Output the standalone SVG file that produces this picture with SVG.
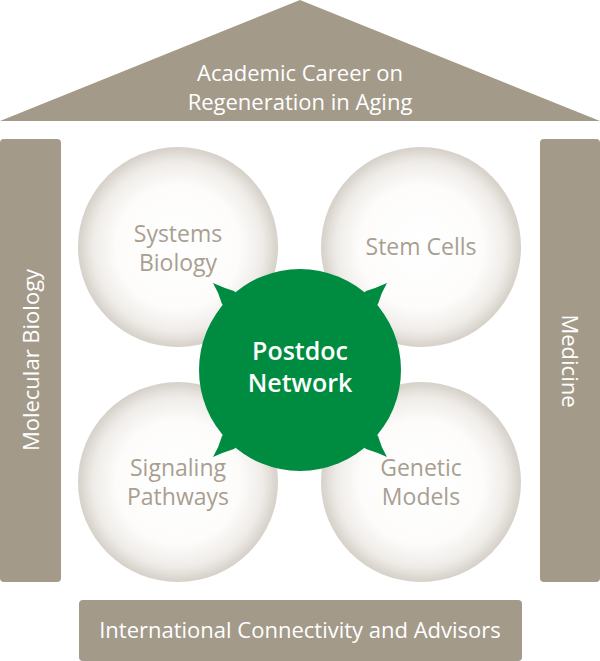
<svg xmlns="http://www.w3.org/2000/svg" width="600" height="661" viewBox="0 0 600 661">
<defs>
<radialGradient id="ball" cx="0.5" cy="0.5" r="0.5">
<stop offset="0" stop-color="#ffffff"/>
<stop offset="0.62" stop-color="#fdfcfb"/>
<stop offset="0.85" stop-color="#efece8"/>
<stop offset="1" stop-color="#d5d0c8"/>
</radialGradient>
<style>
.frame{fill:#a39a8a}
.ftxt{font-family:"Open Sans","Noto Sans",sans-serif;font-size:22px;fill:#ffffff;text-anchor:middle}
.ball{fill:url(#ball)}
.btxt{font-family:"Open Sans","Noto Sans",sans-serif;font-size:23px;fill:#a89f91;text-anchor:middle}
.hub{fill:#008c40}
.htxt{font-family:"Open Sans","Noto Sans",sans-serif;font-size:25px;font-weight:600;fill:#ffffff;text-anchor:middle}
</style>
</defs>
<g id="roof">
<polygon class="frame" points="0,121 300,0 600,121"/>
<text class="ftxt" x="300" y="81">Academic Career on</text>
<text class="ftxt" x="300" y="110">Regeneration in Aging</text>
</g>
<g id="pillar-left">
<rect class="frame" x="0" y="139" width="61" height="443" rx="4"/>
<text class="ftxt" transform="translate(39,360) rotate(-90)">Molecular Biology</text>
</g>
<g id="pillar-right">
<rect class="frame" x="540" y="139" width="60" height="443" rx="4"/>
<text class="ftxt" transform="translate(562,361) rotate(90)">Medicine</text>
</g>
<g id="base">
<rect class="frame" x="79" y="600" width="443" height="61" rx="4"/>
<text class="ftxt" x="300" y="638">International Connectivity and Advisors</text>
</g>
<g id="systems-biology">
<circle class="ball" cx="178" cy="247" r="100"/>
<text class="btxt" x="178" y="242">Systems</text>
<text class="btxt" x="178" y="271">Biology</text>
</g>
<g id="stem-cells">
<circle class="ball" cx="421" cy="247" r="100"/>
<text class="btxt" x="421" y="255">Stem Cells</text>
</g>
<g id="signaling-pathways">
<circle class="ball" cx="178" cy="482" r="100"/>
<text class="btxt" x="178" y="476">Signaling</text>
<text class="btxt" x="178" y="505">Pathways</text>
</g>
<g id="genetic-models">
<circle class="ball" cx="421" cy="482" r="100"/>
<text class="btxt" x="421" y="476">Genetic</text>
<text class="btxt" x="421" y="505">Models</text>
</g>
<g id="connectors"></g>
<g id="postdoc-network">
<circle class="hub" cx="300" cy="370" r="101"/>
<path class="hub" d="M240,297 L234,291 Q224,288 213,283 Q219,293 222,304 L228,311 Z"/>
<path class="hub" d="M360,297 L366,291 Q376,288 387,283 Q381,293 378,304 L372,311 Z"/>
<path class="hub" d="M240,443 L234,449 Q224,452 213,457 Q219,447 222,436 L228,429 Z"/>
<path class="hub" d="M360,443 L366,449 Q376,452 387,457 Q381,447 378,436 L372,429 Z"/>
<text class="htxt" x="300" y="360">Postdoc</text>
<text class="htxt" x="300" y="392">Network</text>
</g>
</svg>
